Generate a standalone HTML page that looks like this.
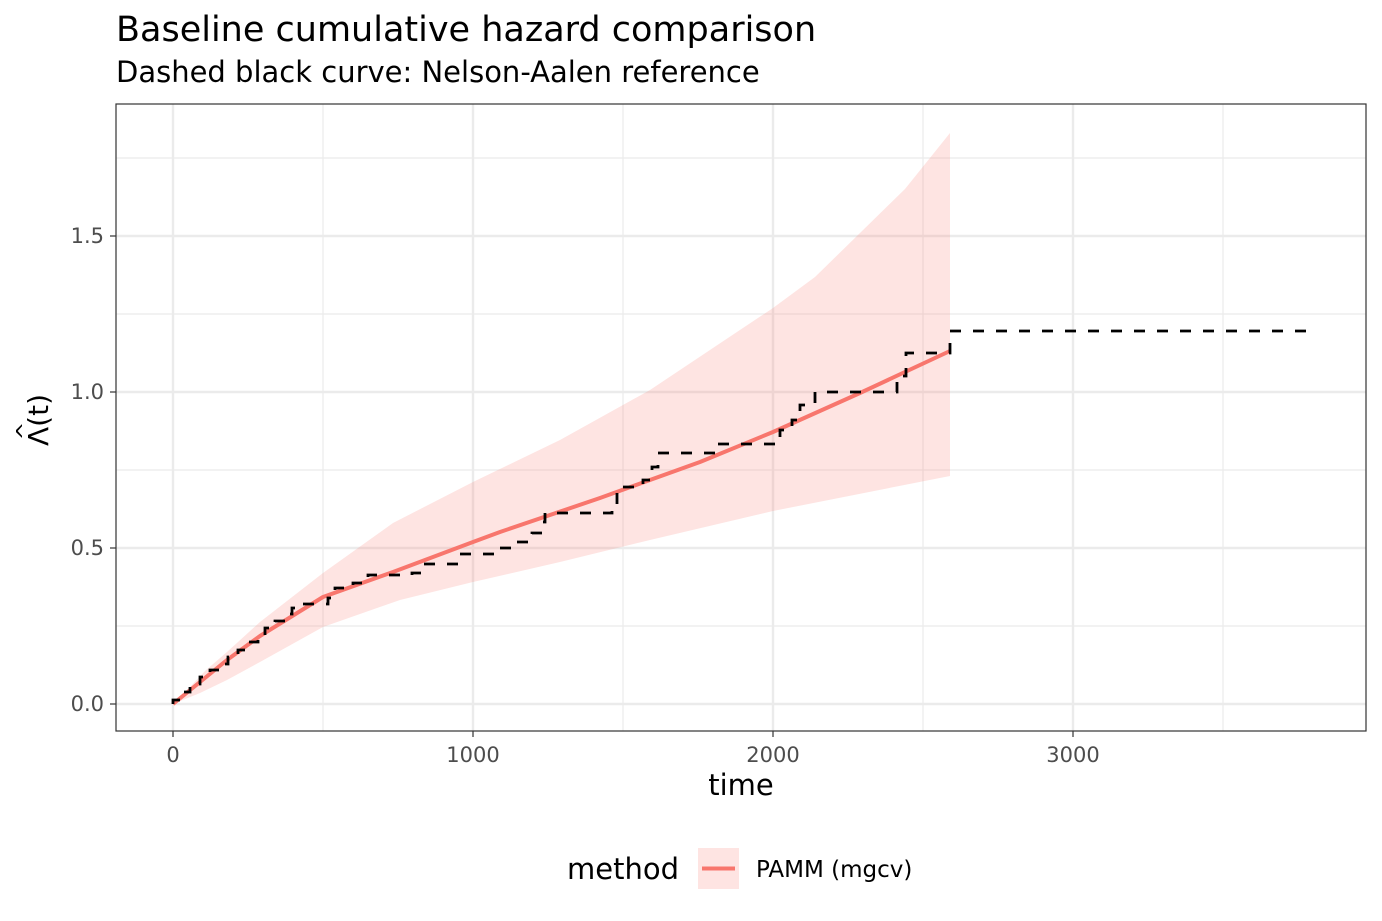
<!DOCTYPE html>
<html><head><meta charset="utf-8"><style>body{margin:0;background:#fff}svg{display:block}</style></head><body>
<svg width="1382" height="921" xmlns="http://www.w3.org/2000/svg" font-family="'DejaVu Sans', 'Liberation Sans', sans-serif">
<rect width="1382" height="921" fill="#fff"/>
<text x="116" y="41" font-size="35" fill="#000">Baseline cumulative hazard comparison</text>
<text x="116" y="82" font-size="29" fill="#000">Dashed black curve: Nelson-Aalen reference</text>
<g stroke="#ebebeb" stroke-width="1.2">
<line x1="116" x2="1366" y1="626" y2="626"/><line x1="116" x2="1366" y1="470" y2="470"/><line x1="116" x2="1366" y1="314" y2="314"/><line x1="116" x2="1366" y1="158" y2="158"/>
<line y1="104" y2="731" x1="323" x2="323"/><line y1="104" y2="731" x1="623" x2="623"/><line y1="104" y2="731" x1="923" x2="923"/><line y1="104" y2="731" x1="1223" x2="1223"/>
</g>
<g stroke="#ebebeb" stroke-width="2.4">
<line x1="116" x2="1366" y1="704" y2="704"/><line x1="116" x2="1366" y1="548" y2="548"/><line x1="116" x2="1366" y1="392" y2="392"/><line x1="116" x2="1366" y1="236" y2="236"/>
<line y1="104" y2="731" x1="173" x2="173"/><line y1="104" y2="731" x1="473" x2="473"/><line y1="104" y2="731" x1="773" x2="773"/><line y1="104" y2="731" x1="1073" x2="1073"/>
</g>
<polygon points="173,704 190,687 205,671 227,652 260,622 323,573 393,523 473,482 560,440 650,390 773,308 815,277 860,233 905,189 950,133 950,476 773,511 650,540 560,562 473,582 400,600 323,627 260,662 227,680 200,693" fill="#f8766d" fill-opacity="0.2"/>
<polyline points="173,704 200,682 227,660 260,636 323,597 393,572 473,542 500,532 600,498 700,462 773,432 860,393 950,351" fill="none" stroke="#f8766d" stroke-width="4" stroke-linejoin="round"/>
<path d="M173,704 V700 H180 V692 H190 V684 H200 V677 H210 V670 H220 V664 H228 V657 H238 V650 H248 V642 H258 V635 H265 V628 H275 V621 H285 V614 H292 V608 H303 V604 H328 V598 H335 V588 H353 V583 H368 V575 H412 V573 H423 V564 H458 V554 H500 V548 H517 V542 H532 V533 H543 V522 H545 V513 H612 V505 H617 V487 H643 V480 H652 V467 H658 V453 H718 V444 H780 V430 H792 V420 H800 V405 H815 V392 H897 V376 H906 V353 H950 V331 H1310" fill="none" stroke="#000" stroke-width="2.8" stroke-dasharray="11,12"/>
<rect x="116" y="104" width="1250" height="627" fill="none" stroke="#333" stroke-width="1.2"/>
<g stroke="#333" stroke-width="1.2">
<line x1="110" x2="116" y1="704" y2="704"/><line x1="110" x2="116" y1="548" y2="548"/><line x1="110" x2="116" y1="392" y2="392"/><line x1="110" x2="116" y1="236" y2="236"/>
<line y1="731" y2="737" x1="173" x2="173"/><line y1="731" y2="737" x1="473" x2="473"/><line y1="731" y2="737" x1="773" x2="773"/><line y1="731" y2="737" x1="1073" x2="1073"/>
</g>
<g font-size="21" fill="#4d4d4d" text-anchor="end">
<text x="104" y="711">0.0</text><text x="104" y="555">0.5</text><text x="104" y="399">1.0</text><text x="104" y="243">1.5</text>
</g>
<g font-size="21" fill="#4d4d4d" text-anchor="middle">
<text x="173" y="762">0</text><text x="473" y="762">1000</text><text x="773" y="762">2000</text><text x="1073" y="762">3000</text>
</g>
<text x="741" y="795" font-size="29" text-anchor="middle">time</text>
<text transform="translate(48,420) rotate(-90)" font-size="28" text-anchor="middle">Λ(t)</text>
<text transform="translate(32,431) rotate(-90)" font-size="22" text-anchor="middle">^</text>
<text x="567" y="879" font-size="29">method</text>
<rect x="698" y="848" width="41" height="41" fill="#f8766d" fill-opacity="0.2"/>
<line x1="702" x2="735" y1="868.5" y2="868.5" stroke="#f8766d" stroke-width="4"/>
<text x="756" y="877" font-size="23">PAMM (mgcv)</text>
</svg>
</body></html>
